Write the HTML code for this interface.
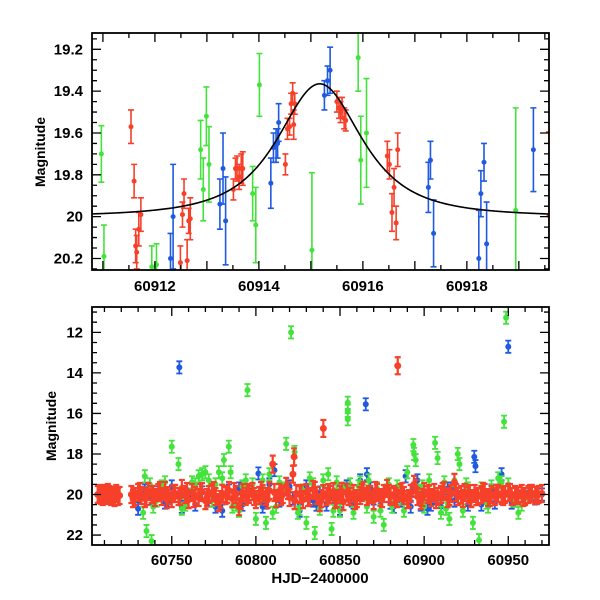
<!DOCTYPE html>
<html><head><meta charset="utf-8"><style>
html,body{margin:0;padding:0;background:#fff;}
svg{display:block;font-family:"Liberation Sans",Arial,sans-serif;}
</style></head><body>
<svg id="chart" width="600" height="600" viewBox="0 0 600 600" xmlns="http://www.w3.org/2000/svg">
<defs>
<clipPath id="clipTop"><rect x="92" y="33" width="457" height="237"/></clipPath>
<clipPath id="clipBot"><rect x="92" y="307" width="457" height="238"/></clipPath>
</defs>
</svg>
<script>
// ---------- Top panel data (zoom) ----------
const topRedT=[60911.54,60911.60,60911.63,60911.65,60911.69,60911.73,60912.49,60912.53,60912.56,60912.62,60912.65,60912.68,60913.51,60913.55,60913.58,60913.62,60913.66,60913.69,60914.51,60914.55,60914.59,60914.62,60914.65,60914.67,60914.69,60915.50,60915.54,60915.57,60915.60,60915.64,60915.67,60916.47,60916.51,60916.56,60916.60,60916.64,60916.67,60919.58];
const topRedM=[19.57,19.83,20.14,20.17,20.06,19.99,20.22,19.99,19.89,20.21,20.02,20.01,19.87,19.77,19.77,19.81,19.77,19.77,19.75,19.58,19.57,19.46,19.41,19.56,19.46,19.45,19.48,19.50,19.48,19.53,19.54,19.71,19.75,19.98,19.86,20.03,19.68,19.995];
const topRedE=[0.08,0.08,0.08,0.08,0.08,0.08,0.08,0.06,0.07,0.1,0.06,0.1,0.05,0.05,0.06,0.06,0.07,0.08,0.05,0.05,0.04,0.05,0.05,0.07,0.05,0.05,0.05,0.05,0.05,0.05,0.05,0.07,0.07,0.09,0.09,0.08,0.08,0.4];
const topBlueT=[60912.30,60912.35,60913.25,60913.31,60913.36,60914.23,60914.28,60914.33,60914.36,60914.38,60915.26,60915.32,60915.37,60917.26,60917.30,60917.36,60918.23,60918.27,60918.33,60918.38,60919.28];
const topBlueM=[20.20,20.00,19.94,19.77,20.02,19.84,19.67,19.66,19.65,19.55,19.42,19.35,19.30,19.86,19.73,20.08,20.20,19.89,19.74,20.13,19.68];
const topBlueE=[0.12,0.25,0.12,0.17,0.21,0.12,0.07,0.08,0.07,0.09,0.07,0.07,0.11,0.12,0.09,0.16,0.23,0.11,0.09,0.2,0.2];
const topGreenT=[60910.97,60911.02,60911.94,60912.03,60912.88,60912.93,60912.99,60913.04,60913.88,60913.94,60914.01,60915.02,60915.91,60915.96,60916.07,60918.94];
const topGreenM=[19.70,20.19,20.24,20.23,19.68,19.87,19.52,19.75,19.89,20.04,19.37,20.16,19.24,19.73,19.60,19.97];
const topGreenE=[0.135,0.15,0.1,0.1,0.14,0.15,0.14,0.18,0.13,0.18,0.15,0.37,0.16,0.21,0.26,0.49];
// model curve parameters: [t0, peakMag, baseMag, width, power]
const modelParams=[60915.17,19.365,20.0,1.25,1.5];
const topXTicks=["60912","60914","60916","60918"];
const topYTicks=["19.2","19.4","19.6","19.8","20","20.2"];

// ---------- Bottom panel data ----------
const botRedT=[60706,60707,60708,60709,60710,60711,60712,60713,60714,60715,60716,60717,60718,60719,
60726,60728,60730,60732,60734,60736,60738,60740,60742,60744,
60746,60748,60750,60752,60754,60756,60758,60760,60762,60764,
60766,60768,60770,60772,60774,60776,60778,60780,60782,60784,
60786,60788,60790,60792,60794,60796,60798,60800,60802,60804,
60806,60808,60810,60812,60814,60816,60818,60820,60822,60824,
60826,60828,60830,60832,60834,60836,60838,60840,60842,60844,
60846,60848,60850,60852,60854,60856,60858,60860,60862,60864,
60866,60868,60870,60872,60874,60876,60878,60880,60882,60884,
60886,60888,60890,60892,60894,60896,60898,60900,60902,60904,
60906,60908,60910,60912,60914,60916,60918,60920,60922,60924,
60926,60928,60930,60932,60934,60936,60938,60940,60942,60944,
60946,60948,60950,60952,60954,60956,60958,60960,60962,60964,
60966,60968,60970,
60727,60731,60735,60739,60743,60747,60751,60755,60759,60763,60767,60771,60775,60779,60783,60787,60791,60795,60799,60803,
60807,60811,60815,60819,60823,60827,60831,60835,60839,60843,60847,60851,60855,60859,60863,60867,60871,60875,60879,60883,
60887,60891,60895,60899,60903,60907,60911,60915,60919,60923,60927,60931,60935,60939,60943,60947,60951,60955,60959,60963,60967,
60840.1,60884.3,60822.7];
const botRedM=[20.0,19.95,20.05,20.1,19.95,20.05,19.9,20.0,20.1,20.05,20.15,19.95,20.1,20.05,
20.0,20.1,19.9,20.05,20.2,19.85,20.0,20.15,19.9,20.1,
19.8,20.05,20.2,19.95,20.1,19.7,20.0,20.25,19.9,20.05,
20.15,19.85,20.3,20.0,19.9,20.1,20.4,19.95,20.05,19.8,
20.2,20.0,20.6,19.9,20.1,20.0,19.85,20.25,20.05,19.95,
20.1,19.8,18.5,20.2,19.9,20.0,19.6,20.15,19.0,19.95,
20.0,20.25,19.9,20.1,19.75,20.05,20.4,19.95,20.1,20.0,
19.85,20.2,20.0,20.35,19.9,20.1,19.95,20.2,20.05,19.8,
20.1,20.0,20.3,19.9,20.15,19.95,19.7,20.1,20.0,20.2,
19.9,20.05,20.25,19.95,19.5,20.1,20.3,19.85,20.0,20.15,
19.9,20.1,20.0,19.8,20.2,19.95,19.4,20.1,20.0,19.9,
20.05,20.2,19.95,20.1,20.0,19.9,20.15,20.0,20.1,19.95,
20.05,20.0,19.9,20.1,20.0,20.05,19.95,20.1,20.0,19.95,
20.05,20.0,19.95,
20.2,19.85,20.1,20.0,19.8,20.25,19.95,20.1,19.85,20.2,19.9,20.15,19.8,20.25,20.0,19.85,20.3,19.9,20.1,19.8,
20.25,19.9,20.1,19.8,20.3,19.95,20.15,19.8,20.2,19.9,20.25,19.85,20.1,20.3,19.9,20.0,19.8,20.2,19.95,20.1,
19.85,20.2,19.7,20.15,19.95,20.25,19.85,20.1,19.9,20.2,19.95,20.1,19.85,20.15,19.95,20.1,19.9,20.05,20.15,19.95,20.05,
16.74,13.65,18.14];
const botBlueT=[60730,60734,60738,60742,60746,60750,60754.5,60756,60760,60764,60768,60772,60776,60780,60784,60788,60792,60796,60801.5,60804,60808,60811,60814,60818,60822,60826,60830,60834,60838,60842,60846,60850,60854,60858,60862,60865.3,60866,60870,60874,60878,60882,60886,60889,60892,60896,60898,60902,60906,60910,60914,60918,60922,60926,60929.8,60930.5,60934,60938,60942,60946,60950,60954,60958,60962,60966,60970,
60736,60748,60762,60777,60790,60806,60820,60836,60848,60857,60868,60880,60893,60904,60916,60928,60940,60952,60964];
const botBlueM=[20.7,19.8,20.2,19.9,20.4,19.6,13.73,20.6,20.0,20.5,19.9,20.3,20.6,20.8,19.8,20.2,20.5,20.0,18.96,20.6,19.5,18.8,20.3,19.7,20.2,20.8,19.6,20.3,19.9,20.5,20.2,20.7,19.6,20.4,19.3,15.55,19.0,20.2,20.5,19.8,20.6,20.3,19.1,20.6,19.3,20.5,20.7,20.2,20.6,19.7,20.3,19.9,20.5,18.14,18.6,20.5,20.2,20.4,19.0,12.71,20.3,20.1,19.9,20.2,20.0,
19.7,20.3,19.8,20.4,19.7,20.4,19.6,20.5,19.8,20.3,19.7,20.4,19.8,20.5,19.7,20.3,19.8,20.4,19.9];
const botGreenT=[60733,60734,60735,60737,60738,60741,60744,60750,60754,60758,60762,60766,60768,60770,60772,60774,60776,60778,60780,60781,60783.9,60785,60788,60790,60792,60795,60798,60800,60802,60804,60806,60808,60812,60816,60818,60820.9,60823,60825,60828,60830,60832,60835,60838,60840,60843,60845,60848,60850,60852,60854.6,60854.6,60854.6,60856,60858,60861,60864,60867,60870,60872,60874,60876,60878,60881,60884,60886,60890,60893.6,60894,60895,60897,60900,60903,60906.5,60908,60910,60912,60915,60918,60920,60921,60923,60926,60929,60932.6,60934,60937,60940,60944,60947.5,60948.7,60950,60953,60956,60960,60964,
60739,60746,60756,60764,60786,60794,60810,60814,60826,60834,60846,60862,60866,60879,60888,60899,60913,60925,60938,60946,60958];
const botGreenM=[20.9,19.1,21.8,19.5,22.3,20.3,19.6,17.64,18.5,20.5,19.4,19.1,19.0,18.9,19.3,20.3,19.5,18.9,19.2,18.3,17.64,18.9,20.5,20.8,19.6,14.85,19.5,21.2,20.2,19.3,21.4,19.0,20.6,19.7,17.5,12.0,17.9,20.9,19.8,21.4,19.2,21.9,20.7,19.3,19.0,21.7,19.4,20.8,19.7,15.47,15.87,16.29,19.5,20.9,19.6,19.8,19.3,21.1,19.7,20.8,21.5,19.8,20.6,19.6,20.2,18.9,17.56,18.0,18.3,19.8,20.6,19.3,17.45,18.2,20.9,19.4,21.2,19.3,18.0,18.5,20.8,19.7,21.4,22.25,19.7,20.4,19.6,19.2,16.41,11.28,19.5,20.3,20.9,20.2,19.9,
20.6,19.4,20.7,19.5,20.6,19.3,20.9,19.4,20.7,19.5,20.8,19.4,20.6,19.5,20.8,19.6,20.7,19.5,20.6,19.4,20.5];
const botErr=[0.42,0.3,0.3]; // typical errors for red, blue, green
const botXTicks=["60750","60800","60850","60900","60950"];
const botYTicks=["12","14","16","18","20","22"];

const RED="#f6402a", BLUE="#1f5ae0", GREEN="#44e33c";
const NS="http://www.w3.org/2000/svg";
const svg=document.getElementById('chart');
function mk(tag,attrs,parent){const e=document.createElementNS(NS,tag);for(const k in attrs)e.setAttribute(k,attrs[k]);(parent||svg).appendChild(e);return e;}
function lin(d0,d1,r0,r1){return v=>r0+(v-d0)*(r1-r0)/(d1-d0);}

const tx=lin(60910.79,60919.58,92,549), ty=lin(19.122,20.255,33,270);
const bx=lin(60702.6,60974.2,92,549), by=lin(10.75,22.49,307,545);

function drawPoints(parent,T,M,E,X,Y,color,r,cap,name,sw){
  const g=mk('g',{},parent);
  
  
  for(let i=0;i<T.length;i++){
    const e=Array.isArray(E)?E[i]:E;
    const x=X(T[i]),y=Y(M[i]),y1=Y(M[i]-e),y2=Y(M[i]+e);
    const p=mk('path',{d:`M${x},${y1}V${y2}M${x-cap},${y1}H${x+cap}M${x-cap},${y2}H${x+cap}`,stroke:color,'stroke-width':sw||1.6,fill:'none'},g);
    
    
    const c=mk('circle',{cx:x,cy:y,r:r,fill:color},g);
    
    
  }
}

function frameAndTicks(x0,y0,w,h,xMin,xMaj,X,xa,xb,yMin,yMaj,Y,ya,yb,name){
  const g=mk('g',{stroke:'#000','stroke-width':1.3,fill:'none'});
  
  
  const eps=1e-6;
  for(let v=Math.ceil(xa/xMin)*xMin; v<=xb+eps; v+=xMin){
    const maj=Math.abs(v/xMaj-Math.round(v/xMaj))<1e-6, L=maj?9:5, x=X(v);
    mk('path',{d:`M${x},${y0+h}v${-L}M${x},${y0}v${L}`},g);
  }
  for(let v=Math.ceil(ya/yMin-eps)*yMin; v<=yb+eps; v+=yMin){
    const maj=Math.abs(v/yMaj-Math.round(v/yMaj))<1e-6, L=maj?9:5, y=Y(v);
    mk('path',{d:`M${x0},${y}h${L}M${x0+w},${y}h${-L}`},g);
  }
  const r=mk('rect',{x:x0,y:y0,width:w,height:h,'stroke-width':1.8},g);
  
  
}
function label(txt,x,y,anchor,name,size,rot){
  const t=mk('text',{x:x,y:y,'text-anchor':anchor,'font-size':size||14,'font-weight':'bold',fill:'#000'});
  if(rot) t.setAttribute('transform',`rotate(-90 ${x} ${y})`);
  t.textContent=txt;
  
  
  return t;
}

// ---- Top panel ----
const gTop=mk('g',{'clip-path':'url(#clipTop)'});


drawPoints(gTop,topGreenT,topGreenM,topGreenE,tx,ty,GREEN,2.5,3,'green-series-zoom');
drawPoints(gTop,topBlueT,topBlueM,topBlueE,tx,ty,BLUE,2.5,3,'blue-series-zoom');
drawPoints(gTop,topRedT,topRedM,topRedE,tx,ty,RED,2.5,3,'red-series-zoom');
let d='';
for(let t=60910.79;t<=60919.6;t+=0.02){
  const [t0,pk,base,w,p]=modelParams;
  const m=base-(base-pk)*Math.pow(1+((t-t0)/w)**2,-p);
  d+=(d?'L':'M')+tx(t).toFixed(2)+','+ty(m).toFixed(2);
}
const curve=mk('path',{d:d,stroke:'#000','stroke-width':1.6,fill:'none'},gTop);


frameAndTicks(92,33,457,237,0.5,1,tx,60910.79,60919.58,0.05,0.2,ty,19.122,20.255,'zoom-panel');
topXTicks.forEach(s=>label(s,tx(+s),291,'middle','zoom-x-tick-label',15));
topYTicks.forEach(s=>label(s,83,ty(+s)+5,'end','zoom-y-tick-label',15));
label('Magnitude',45,152,'middle','zoom-y-axis-title',14,true);

// ---- Bottom panel ----
const gBot=mk('g',{'clip-path':'url(#clipBot)'});


drawPoints(gBot,botBlueT,botBlueM,botErr[1],bx,by,BLUE,3,3,'blue-series',1.8);
drawPoints(gBot,botGreenT,botGreenM,botErr[2],bx,by,GREEN,3,3,'green-series',1.8);
drawPoints(gBot,botRedT,botRedM,botErr[0],bx,by,RED,3.5,3,'red-series',2.2);
frameAndTicks(92,307,457,238,10,50,bx,60702.6,60974.2,0.5,2,by,10.75,22.49,'full-panel');
botXTicks.forEach(s=>label(s,bx(+s),565,'middle','x-tick-label',15));
botYTicks.forEach(s=>label(s,83,by(+s)+5,'end','y-tick-label',15));
label('Magnitude',56,426,'middle','y-axis-title',14,true);
label('HJD\u22122400000',320,583,'middle','x-axis-title',15);
</script>
</body></html>
